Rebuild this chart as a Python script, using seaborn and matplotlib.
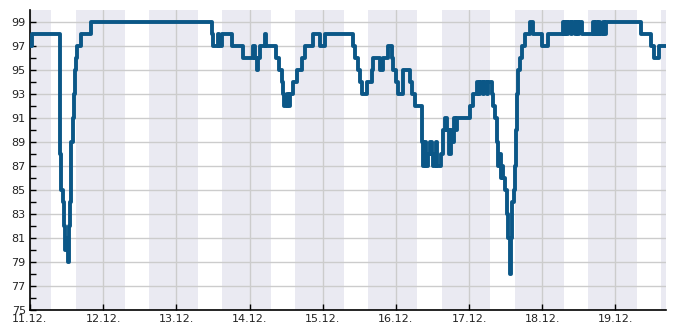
import matplotlib
matplotlib.use("Agg")
import matplotlib.pyplot as plt
import seaborn as sns
import pandas as pd
import numpy as np

# hours since 11.12. 00:00
hours = [0.0, 0.5, 9.7, 9.9, 10.3, 10.8, 11.1, 11.6, 12.0, 12.3, 12.7, 12.9, 13.1, 13.3, 13.5, 14.0, 14.3, 14.7, 15.1, 15.5, 16.6, 19.9,
         59.6, 60.0, 61.6, 62.0, 63.0, 66.2, 69.7, 73.1, 73.8, 74.3, 74.8, 75.4, 77.1, 77.5, 80.7, 81.6, 82.5, 83.0, 83.3, 84.3, 84.6,
         85.2, 86.2, 87.5, 89.1, 90.2, 92.9, 95.1, 96.7,
         106.0, 106.6, 107.7, 108.2, 108.8, 110.4, 112.0, 112.6, 114.8, 115.7, 117.5, 118.6, 119.0, 120.0, 120.7, 122.3, 124.6,
         125.3, 126.2, 128.5, 129.0, 129.5, 130.0, 130.5, 131.2, 131.8, 132.1, 133.1, 133.4, 134.7, 135.3, 136.1, 136.7, 137.4,
         138.0, 138.4, 139.1, 139.4, 140.1, 144.3, 145.3, 146.6, 147.2, 147.6, 148.5, 148.9, 149.9, 150.2, 151.4, 151.8, 152.4,
         153.0, 153.5, 154.0, 154.4, 154.8, 155.2, 155.8, 156.3, 156.8, 157.4, 157.7, 158.1, 158.8, 159.0, 159.4, 159.8, 160.1,
         160.7, 161.2, 162.3, 164.0, 164.8, 167.8, 169.9, 174.8, 175.1, 175.4, 176.0, 176.4, 177.4, 177.7, 178.7, 179.0, 179.7,
         180.0, 181.0, 184.6, 184.9, 185.6, 185.9, 186.6, 186.9, 187.9, 188.2, 188.9, 200.5, 203.8, 204.5, 206.4, 208.4]
values = [97, 98, 96, 88, 85, 84, 82, 80, 81, 79, 80, 82, 84, 86, 89, 91, 93, 95, 96, 97, 98, 99,
          98, 97, 98, 97, 98, 97, 96, 97, 96, 95, 96, 97, 98, 97, 96, 95, 94, 93, 92, 93, 92,
          93, 94, 95, 96, 97, 98, 97, 98,
          97, 96, 95, 94, 93, 94, 95, 96, 95, 96, 97, 96, 95, 94, 93, 95, 94,
          93, 92, 89, 87, 89, 87, 88, 89, 88, 87, 89, 87, 88, 90, 91, 90, 88,
          90, 89, 91, 90, 91, 92, 93, 94, 93, 94, 93, 94, 93, 94, 93, 92, 91,
          89, 87, 88, 86, 87, 86, 85, 83, 81, 78, 81, 84, 85, 87, 90, 93, 95,
          96, 97, 98, 99, 98, 97, 98, 99, 98, 99, 98, 99, 98, 99, 98, 99, 98,
          99, 98, 99, 98, 99, 98, 99, 98, 99, 98, 99, 98, 97, 96, 97, 97]

day_ticks = [0, 24, 48, 72, 96, 120, 144, 168, 192]
day_labels = ["11.12.", "12.12.", "13.12.", "14.12.", "15.12.", "16.12.", "17.12.", "18.12.", "19.12."]
# shaded periods (15:00 - 07:00), hours
band_starts = [0, 15, 39, 63, 87, 111, 135, 159, 183, 207]
band_ends = [7, 31, 55, 79, 103, 127, 151, 175, 199, 209]

sns.set_style("white")
plt.rcParams['font.family'] = ['DejaVu Sans']

fig = plt.figure(figsize=(6.85, 3.3), dpi=100)
ax = fig.add_axes([30/685, 20/330, 635.5/685, 300/330])

df = pd.DataFrame({"hours": hours, "value": values})
for s, e in zip(band_starts, band_ends):
    ax.axvspan(s, e, color="#eaeaf2", zorder=0.2, lw=0)

sns.lineplot(data=df, x="hours", y="value", ax=ax, color="#0b5787",
             linewidth=2.8, drawstyle="steps-post", estimator=None, zorder=3)

ax.set_xlim(0, 208.4)
ax.set_ylim(75, 100)
ax.set_axisbelow(True)
ax.set_xticks(day_ticks)
ax.set_xticklabels(day_labels)
ax.set_yticks(list(range(75, 100, 2)))
ax.set_yticks(list(range(76, 100, 2)), minor=True)
ax.grid(True, which="major", color="#cccccc", linewidth=1.0)
ax.set_xlabel("")
ax.set_ylabel("")

for side in ["top", "right"]:
    ax.spines[side].set_visible(False)
for side in ["left", "bottom"]:
    ax.spines[side].set_color("black")
    ax.spines[side].set_linewidth(1.2)

ax.tick_params(axis="both", which="both", direction="in", color="black", labelsize=8, labelcolor="#222222")
ax.tick_params(axis="y", which="major", length=4, width=1, left=True, pad=3)
ax.tick_params(axis="y", which="minor", length=4, width=1, left=True)
ax.tick_params(axis="x", which="major", length=4, width=1, bottom=True, pad=3)

fig.savefig("out.png", dpi=100)
